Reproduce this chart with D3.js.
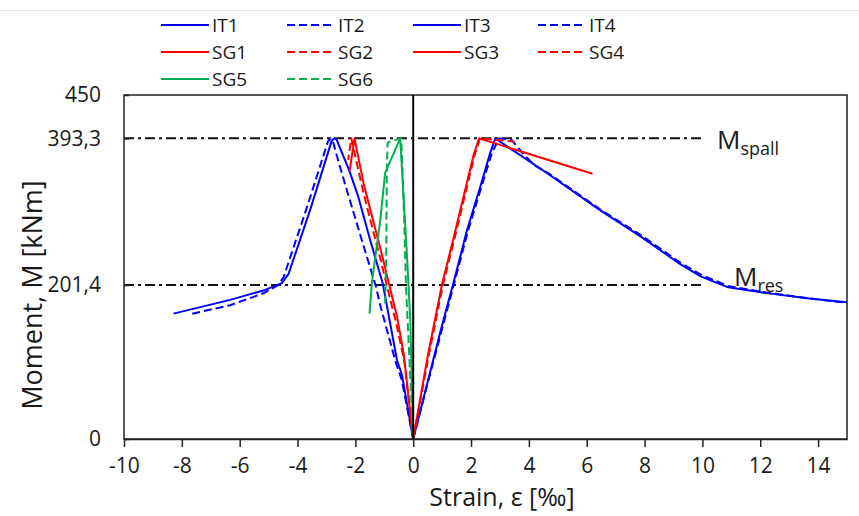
<!DOCTYPE html>
<html>
<head>
<meta charset="utf-8">
<script src="https://cdn.jsdelivr.net/npm/d3@7"></script>
<style>
  body { margin: 0; background: #fff; }
  svg { display: block; }
  text { font-family: "Open Sans", sans-serif; fill: #1a1a1a; }
</style>
</head>
<body>
<svg id="chart" width="859" height="516"></svg>
<script>
// ---- data -------------------------------------------------------------
const xTickValues = [-10, -8, -6, -4, -2, 0, 2, 4, 6, 8, 10, 12, 14];
const yTickValues = [0, 201.4, 393.3, 450];
const momentSpall = 393.3;   // kNm
const momentRes = 201.4;     // kNm
const seriesNames = ["IT1", "IT2", "IT3", "IT4", "SG1", "SG2", "SG3", "SG4", "SG5", "SG6"];

// [strain ‰, moment kNm], in load order starting at the origin
const it1 = [[0, 0], [-0.39, 84], [-0.56, 103], [-1.05, 203], [-1.5, 262], [-1.9, 317], [-2.2, 350],
  [-2.5, 378], [-2.65, 392], [-2.72, 393.3], [-2.82, 390], [-3.56, 300], [-4.31, 216], [-4.54, 204],
  [-5.12, 195], [-6.33, 182], [-8.29, 164]];
const it2 = [[0, 0], [-0.4, 78], [-0.6, 100], [-1.14, 175], [-1.3, 201], [-1.72, 253], [-2.29, 325],
  [-2.6, 365], [-2.78, 390], [-2.86, 393.3], [-2.95, 389], [-3.7, 300], [-4.48, 212], [-4.66, 201.5],
  [-5.18, 190.6], [-6.33, 175], [-7.75, 163]];
const it3 = [[0, 0], [0.5, 75], [1.0, 149], [1.39, 204], [1.86, 273], [2.32, 330], [2.66, 374],
  [2.84, 393.3], [3.0, 389], [4.62, 348], [6.47, 299], [7.86, 265], [9.26, 228], [9.96, 212.5],
  [10.89, 198.4], [12.29, 190.5], [13.69, 183.8], [15, 179]];
const it4 = [[0, 0], [0.5, 73], [1.02, 147], [1.42, 204], [1.9, 273], [2.36, 330], [2.72, 374],
  [2.97, 393.3], [3.41, 391], [3.85, 371], [4.2, 358], [4.7, 347], [6.5, 299.5], [7.9, 266],
  [9.3, 229], [10.0, 214], [10.9, 200], [12.3, 191], [13.7, 184], [15, 178]];
const sg1 = [[0, 0], [-0.33, 112], [-0.56, 160], [-1.14, 250], [-1.72, 335], [-2.03, 393.3], [-2.2, 350]];
const sg2 = [[0, 0], [-0.3, 100], [-0.56, 147], [-1.14, 236], [-1.72, 322], [-2.14, 393.3], [-2.25, 365]];
const sg3 = [[0, 0], [0.5, 108], [1.0, 203], [1.39, 262], [1.74, 317], [2.09, 372], [2.28, 393.3], [6.2, 347]];
const sg4 = [[0, 0], [0.52, 106], [1.03, 202], [1.42, 261], [1.77, 316], [2.12, 371], [2.31, 393.3], [3.5, 389]];
const sg5 = [[0, 0], [-0.1, 155], [-0.22, 243], [-0.45, 393.3], [-0.97, 348], [-1.14, 286],
  [-1.43, 204], [-1.51, 164]];
const sg6 = [[0, 0], [-0.25, 200], [-0.31, 286], [-0.39, 374], [-0.42, 393.3], [-0.88, 388],
  [-0.91, 360], [-0.93, 250], [-0.97, 176]];

const seriesData = [it1, it2, it3, it4, sg1, sg2, sg3, sg4, sg5, sg6];

// ---- styling ----------------------------------------------------------
const BLUE = "#0000ff", RED = "#ff0000", GREEN = "#00b050";
const seriesStyle = [
  { color: BLUE, dash: null }, { color: BLUE, dash: "8,4" },
  { color: BLUE, dash: null }, { color: BLUE, dash: "8,4" },
  { color: RED, dash: null }, { color: RED, dash: "8,4" },
  { color: RED, dash: null }, { color: RED, dash: "8,4" },
  { color: GREEN, dash: null }, { color: GREEN, dash: "8,4" }
];

const svg = d3.select("#chart");
const x = d3.scaleLinear().domain([-10, 15]).range([124, 847]);
const y = d3.scaleLinear().domain([0, 450]).range([439, 95]);

// faint chart-area edge
svg.append("line").attr("x1", 0).attr("x2", 859).attr("y1", 10.5).attr("y2", 10.5)
  .attr("stroke", "#e3e3e3").attr("stroke-width", 1);

// reference moments (dash-dot)
const refG = svg.append("g");
[momentSpall, momentRes].forEach(m => {
  refG.append("line")
    .attr("x1", x(-10)).attr("x2", x(10))
    .attr("y1", y(m)).attr("y2", y(m))
    .attr("stroke", "#111").attr("stroke-width", 2)
    .attr("stroke-dasharray", "10,4,3,4");
});

// series
const line = d3.line().x(d => x(d[0])).y(d => y(d[1]));
const seriesG = svg.append("g");
seriesData.forEach((pts, i) => {
  const st = seriesStyle[i];
  seriesG.append("path")
    .attr("d", line(pts))
    .attr("fill", "none")
    .attr("stroke", st.color)
    .attr("stroke-width", 2)
    .attr("stroke-linejoin", "round")
    .attr("stroke-dasharray", st.dash);
});

// plot frame
svg.append("rect")
  .attr("x", x(-10)).attr("y", y(450))
  .attr("width", x(15) - x(-10)).attr("height", y(0) - y(450))
  .attr("fill", "none").attr("stroke", "#222").attr("stroke-width", 1.5);

// vertical zero line
svg.append("line")
  .attr("x1", x(0)).attr("x2", x(0)).attr("y1", y(0)).attr("y2", y(450))
  .attr("stroke", "#000").attr("stroke-width", 2);

// x axis
const xAxis = d3.axisBottom(x).tickValues(xTickValues).tickSize(8).tickSizeOuter(0).tickPadding(11)
  .tickFormat(d => d3.format("d")(d).replace("−", "-"));
const gx = svg.append("g").attr("transform", `translate(0,${y(0)})`).call(xAxis);
gx.select(".domain").attr("stroke", "#222").attr("stroke-width", 1.5);
gx.selectAll(".tick line").attr("stroke", "#222").attr("stroke-width", 1.5);
gx.selectAll(".tick text").attr("font-size", 21).attr("font-family", "Open Sans").attr("fill", "#1a1a1a");

// y axis
const yAxis = d3.axisLeft(y).tickValues(yTickValues).tickSize(-5).tickSizeOuter(0).tickPadding(23)
  .tickFormat(d => String(d).replace(".", ","));
const gy = svg.append("g").attr("transform", `translate(${x(-10)},0)`).call(yAxis);
gy.select(".domain").remove();
gy.selectAll(".tick line").attr("stroke", "#222").attr("stroke-width", 1.5);
gy.selectAll(".tick text").attr("font-size", 21).attr("font-family", "Open Sans").attr("fill", "#1a1a1a");

// axis titles
svg.append("text")
  .attr("x", 502).attr("y", 506).attr("text-anchor", "middle")
  .attr("font-size", 25).text("Strain, ε [‰]");
svg.append("text")
  .attr("transform", "translate(42,295) rotate(-90)").attr("text-anchor", "middle")
  .attr("font-size", 27).text("Moment, M [kNm]");

// reference labels
function momentLabel(xp, yp, sub) {
  const t = svg.append("text").attr("x", xp).attr("y", yp).attr("font-size", 26);
  t.append("tspan").text("M");
  t.append("tspan").attr("font-size", 18).attr("dy", 6).text(sub);
}
momentLabel(717, 149, "spall");
momentLabel(734, 286, "res");

// legend
const legCols = [161, 287, 413, 538];
const legRows = [25, 52, 79];
const legG = svg.append("g");
seriesNames.forEach((name, i) => {
  const cx = legCols[i % 4], cy = legRows[Math.floor(i / 4)];
  const st = seriesStyle[i];
  legG.append("line")
    .attr("x1", cx).attr("x2", cx + 48).attr("y1", cy).attr("y2", cy)
    .attr("stroke", st.color).attr("stroke-width", 2).attr("stroke-dasharray", st.dash);
  legG.append("text")
    .attr("x", cx + 51).attr("y", cy + 7).attr("font-size", 19).text(name);
});
</script>
</body>
</html>
